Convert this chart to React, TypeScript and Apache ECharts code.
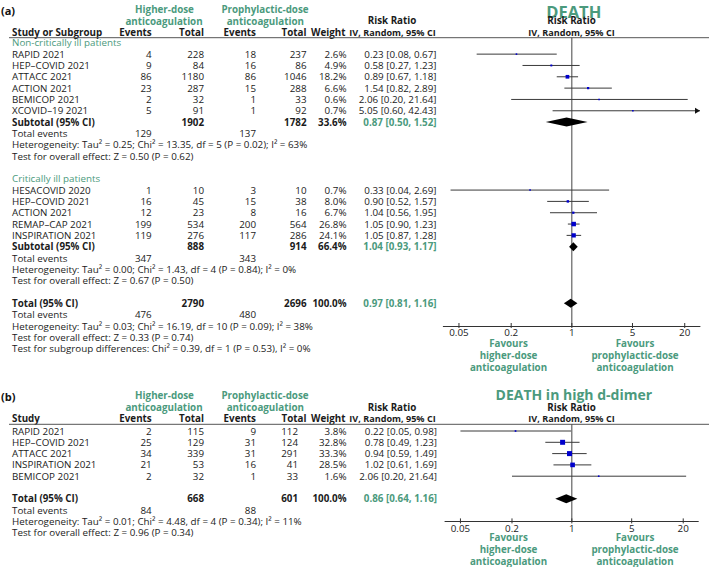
import React, { useEffect, useRef } from 'react';
import * as echarts from 'echarts';

const FONT = "'Open Sans', sans-serif";
const GREEN = '#4b9a7d';
const INK = '#1b1b1b';
const FS = 9.8;
const X_MIN = 0.033;
const X_MAX = 30;

// ---------- Panel (a): DEATH ----------
const groupLabelsA = ['Non-critically ill patients', 'Critically ill patients'];

const nonCritStudies = ['RAPID 2021', 'HEP–COVID 2021', 'ATTACC 2021', 'ACTION 2021', 'BEMICOP 2021', 'XCOVID–19 2021'];
const nonCritHighEvents = [4, 9, 86, 23, 2, 5];
const nonCritHighTotal = [228, 84, 1180, 287, 32, 91];
const nonCritProEvents = [18, 16, 86, 15, 1, 1];
const nonCritProTotal = [237, 86, 1046, 288, 33, 92];
const nonCritWeight = [2.6, 4.9, 18.2, 6.6, 0.6, 0.7];
const nonCritRR = [0.23, 0.58, 0.89, 1.54, 2.06, 5.05];
const nonCritLow = [0.08, 0.27, 0.67, 0.82, 0.2, 0.6];
const nonCritHigh = [0.67, 1.23, 1.18, 2.89, 21.64, 42.43];
// [higher total, prophylactic total, weight, RR, low, high]
const nonCritSubtotal = [1902, 1782, 33.6, 0.87, 0.5, 1.52];
const nonCritEvents = [129, 137];
const nonCritHetText = 'Heterogeneity: Tau² = 0.25; Chi² = 13.35, df = 5 (P = 0.02); I² = 63%';
const nonCritTestText = 'Test for overall effect: Z = 0.50 (P = 0.62)';

const critStudies = ['HESACOVID 2020', 'HEP–COVID 2021', 'ACTION 2021', 'REMAP–CAP 2021', 'INSPIRATION 2021'];
const critHighEvents = [1, 16, 12, 199, 119];
const critHighTotal = [10, 45, 23, 534, 276];
const critProEvents = [3, 15, 8, 200, 117];
const critProTotal = [10, 38, 16, 564, 286];
const critWeight = [0.7, 8.0, 6.7, 26.8, 24.1];
const critRR = [0.33, 0.9, 1.04, 1.05, 1.05];
const critLow = [0.04, 0.52, 0.56, 0.9, 0.87];
const critHigh = [2.69, 1.57, 1.95, 1.23, 1.28];
const critSubtotal = [888, 914, 66.4, 1.04, 0.93, 1.17];
const critEvents = [347, 343];
const critHetText = 'Heterogeneity: Tau² = 0.00; Chi² = 1.43, df = 4 (P = 0.84); I² = 0%';
const critTestText = 'Test for overall effect: Z = 0.67 (P = 0.50)';

const overallA = [2790, 2696, 100.0, 0.97, 0.81, 1.16];
const overallEventsA = [476, 480];
const overallHetA = 'Heterogeneity: Tau² = 0.03; Chi² = 16.19, df = 10 (P = 0.09); I² = 38%';
const overallTestA = 'Test for overall effect: Z = 0.33 (P = 0.74)';
const subgroupTestA = 'Test for subgroup differences: Chi² = 0.39, df = 1 (P = 0.53), I² = 0%';

// ---------- Panel (b): DEATH in high d-dimer ----------
const dimerStudies = ['RAPID 2021', 'HEP–COVID 2021', 'ATTACC 2021', 'INSPIRATION 2021', 'BEMICOP 2021'];
const dimerHighEvents = [2, 25, 34, 21, 2];
const dimerHighTotal = [115, 129, 339, 53, 32];
const dimerProEvents = [9, 31, 31, 16, 1];
const dimerProTotal = [112, 124, 291, 41, 33];
const dimerWeight = [3.8, 32.8, 33.3, 28.5, 1.6];
const dimerRR = [0.22, 0.78, 0.94, 1.02, 2.06];
const dimerLow = [0.05, 0.49, 0.59, 0.61, 0.2];
const dimerHigh = [0.98, 1.23, 1.49, 1.69, 21.64];
const overallB = [668, 601, 100.0, 0.86, 0.64, 1.16];
const overallEventsB = [84, 88];
const overallHetB = 'Heterogeneity: Tau² = 0.01; Chi² = 4.48, df = 4 (P = 0.34); I² = 11%';
const overallTestB = 'Test for overall effect: Z = 0.96 (P = 0.34)';

const tickValues = [0.05, 0.2, 1, 5, 20];
const tickLabels = ['0.05', '0.2', '1', '5', '20'];

// ---------- layout ----------
type Cell = { t: string; x: number; a: string; b?: boolean; c?: string };
type Cols = { name: number; he: number; ht: number; pe: number; pt: number; w: number; rr: number };
const COLS_A: Cols = { name: 12, he: 151.7, ht: 204, pe: 256, pt: 306.5, w: 346.5, rr: 436.5 };
const COLS_B: Cols = { name: 12, he: 151.7, ht: 204, pe: 256, pt: 298, w: 346.5, rr: 437 };

const f2 = (v: number) => v.toFixed(2);
const ciText = (rr: number, lo: number, hi: number) => `${f2(rr)} [${f2(lo)}, ${f2(hi)}]`;

function makeBuilder(cols: Cols) {
  const rows: Cell[][] = [];
  const marks: number[][] = [];
  return {
    rows,
    marks,
    text(t: string, color = INK) {
      rows.push([{ t, x: cols.name, a: 'left', c: color }]);
    },
    blank() {
      rows.push([]);
    },
    studies(names: string[], he: number[], ht: number[], pe: number[], pt: number[], w: number[], rr: number[], lo: number[], hi: number[]) {
      names.forEach((n, i) => {
        const r = rows.length;
        rows.push([
          { t: n, x: cols.name, a: 'left' },
          { t: String(he[i]), x: cols.he, a: 'right' },
          { t: String(ht[i]), x: cols.ht, a: 'right' },
          { t: String(pe[i]), x: cols.pe, a: 'right' },
          { t: String(pt[i]), x: cols.pt, a: 'right' },
          { t: w[i].toFixed(1) + '%', x: cols.w, a: 'right' },
          { t: ciText(rr[i], lo[i], hi[i]), x: cols.rr, a: 'right' },
        ]);
        marks.push([rr[i], r, lo[i], hi[i], w[i], 0]);
      });
    },
    summary(label: string, s: number[]) {
      const r = rows.length;
      rows.push([
        { t: label, x: cols.name, a: 'left', b: true },
        { t: String(s[0]), x: cols.ht, a: 'right', b: true },
        { t: String(s[1]), x: cols.pt, a: 'right', b: true },
        { t: s[2].toFixed(1) + '%', x: cols.w, a: 'right', b: true },
        { t: ciText(s[3], s[4], s[5]), x: cols.rr, a: 'right', b: true, c: GREEN },
      ]);
      marks.push([s[3], r, s[4], s[5], s[2], 1]);
    },
    events(e: number[]) {
      rows.push([
        { t: 'Total events', x: cols.name, a: 'left' },
        { t: String(e[0]), x: cols.he, a: 'right' },
        { t: String(e[1]), x: cols.pe, a: 'right' },
      ]);
    },
  };
}

const A = makeBuilder(COLS_A);
A.text(groupLabelsA[0], GREEN);
A.studies(nonCritStudies, nonCritHighEvents, nonCritHighTotal, nonCritProEvents, nonCritProTotal, nonCritWeight, nonCritRR, nonCritLow, nonCritHigh);
A.summary('Subtotal (95% CI)', nonCritSubtotal);
A.events(nonCritEvents);
A.text(nonCritHetText);
A.text(nonCritTestText);
A.blank();
A.text(groupLabelsA[1], GREEN);
A.studies(critStudies, critHighEvents, critHighTotal, critProEvents, critProTotal, critWeight, critRR, critLow, critHigh);
A.summary('Subtotal (95% CI)', critSubtotal);
A.events(critEvents);
A.text(critHetText);
A.text(critTestText);
A.blank();
A.summary('Total (95% CI)', overallA);
A.events(overallEventsA);
A.text(overallHetA);
A.text(overallTestA);
A.text(subgroupTestA);

const B = makeBuilder(COLS_B);
B.studies(dimerStudies, dimerHighEvents, dimerHighTotal, dimerProEvents, dimerProTotal, dimerWeight, dimerRR, dimerLow, dimerHigh);
B.blank();
B.summary('Total (95% CI)', overallB);
B.events(overallEventsB);
B.text(overallHetB);
B.text(overallTestB);

const Y_MIN_A = -0.45;
const Y_AXIS_A = 25;
const Y_MIN_B = -0.593;
const Y_AXIS_B = 8;

function txtStyle(t: string, align: string, bold?: boolean, color?: string, size?: number) {
  const fs = size || FS;
  return {
    text: t,
    fill: color || INK,
    fontSize: fs,
    fontFamily: FONT,
    fontWeight: bold ? 'bold' : 'normal',
    lineHeight: Math.min(fs, 12),
    align,
    verticalAlign: 'middle',
    textAlign: align,
    textVerticalAlign: 'middle',
  };
}

function T(x: number, y: number, t: string, align: string, bold?: boolean, color?: string, size?: number) {
  return { type: 'text', x, y, silent: true, style: txtStyle(t, align, bold, color, size) };
}

function tableSeries(rows: Cell[][], idx: number) {
  return {
    type: 'custom',
    xAxisIndex: idx,
    yAxisIndex: idx,
    silent: true,
    clip: false,
    data: rows.map((_, i) => [1, i]),
    encode: { x: 0, y: 1 },
    renderItem: (_p: any, api: any) => {
      const i = api.value(1);
      const y = api.coord([1, i])[1];
      return {
        type: 'group',
        children: rows[i].map((c) => ({ type: 'text', x: c.x, y, style: txtStyle(c.t, c.a, c.b, c.c) })),
      };
    },
  };
}

function forestSeries(marks: number[][], idx: number) {
  return {
    type: 'custom',
    xAxisIndex: idx,
    yAxisIndex: idx,
    silent: true,
    clip: false,
    data: marks,
    encode: { x: 0, y: 1 },
    renderItem: (_p: any, api: any) => {
      const rr = api.value(0);
      const r = api.value(1);
      const lo = api.value(2);
      const hi = api.value(3);
      const w = api.value(4);
      const kind = api.value(5);
      const c = api.coord([rr, r]);
      const pl = api.coord([lo, r]);
      const ph = api.coord([Math.min(hi, X_MAX), r]);
      if (kind === 1) {
        return {
          type: 'polygon',
          shape: { points: [[pl[0], c[1]], [c[0], c[1] - 4.5], [ph[0], c[1]], [c[0], c[1] + 4.5]] },
          style: { fill: '#000' },
        };
      }
      const s = Math.max(1.6, 0.87 * Math.sqrt(w));
      const children: any[] = [
        { type: 'line', shape: { x1: pl[0], y1: c[1], x2: ph[0], y2: c[1] }, style: { stroke: '#3a3a3a', lineWidth: 1 } },
        { type: 'rect', shape: { x: c[0] - s / 2, y: c[1] - s / 2, width: s, height: s }, style: { fill: '#0000cc' } },
      ];
      if (hi > X_MAX) {
        children.push({
          type: 'polygon',
          shape: { points: [[ph[0], c[1]], [ph[0] - 5, c[1] - 3], [ph[0] - 5, c[1] + 3]] },
          style: { fill: '#111' },
        });
      }
      return { type: 'group', children };
    },
  };
}

function refLineSeries(idx: number, yMin: number, yMax: number) {
  return {
    type: 'custom',
    xAxisIndex: idx,
    yAxisIndex: idx,
    silent: true,
    clip: false,
    data: [[1, yMin, yMax]],
    encode: { x: 0, y: 1 },
    renderItem: (_p: any, api: any) => {
      const p0 = api.coord([1, api.value(1)]);
      const p1 = api.coord([1, api.value(2)]);
      return { type: 'line', shape: { x1: p0[0], y1: p0[1], x2: p1[0], y2: p1[1] }, style: { stroke: '#444', lineWidth: 1 } };
    },
  };
}

function tickSeries(idx: number, axisRow: number) {
  return {
    type: 'custom',
    xAxisIndex: idx,
    yAxisIndex: idx,
    silent: true,
    clip: false,
    data: tickValues.map((v, i) => [v, axisRow, i]),
    encode: { x: 0, y: 1 },
    renderItem: (_p: any, api: any) => {
      const p = api.coord([api.value(0), api.value(1)]);
      return {
        type: 'group',
        children: [
          { type: 'line', shape: { x1: p[0], y1: p[1] - 3, x2: p[0], y2: p[1] + 2 }, style: { stroke: '#333', lineWidth: 1 } },
          { type: 'text', x: p[0], y: p[1] + 6.8, style: txtStyle(tickLabels[api.value(2)], 'center') },
        ],
      };
    },
  };
}

function headerBlock(y0: number, studyLabel: string, panel: string, title: string, titleSize: number, titleY: number, lineY: number, favY: number) {
  const hy = y0 + 23.5;
  return [
    T(1, y0 + 1.5, panel, 'left', true, '#111', 11),
    T(164.5, y0, 'Higher-dose', 'center', true, GREEN),
    T(164, y0 + 12.5, 'anticoagulation', 'center', true, GREEN),
    T(265, y0, 'Prophylactic-dose', 'center', true, GREEN),
    T(265.3, y0 + 12.5, 'anticoagulation', 'center', true, GREEN),
    T(392, y0 + 11.7, 'Risk Ratio', 'center', true),
    T(12, hy, studyLabel, 'left', true),
    T(151.7, hy, 'Events', 'right', true),
    T(204, hy, 'Total', 'right', true),
    T(256, hy, 'Events', 'right', true),
    T(306.5, hy, 'Total', 'right', true),
    T(345.5, hy, 'Weight', 'right', true),
    T(392.5, hy, 'IV, Random, 95% CI', 'center', true, INK, 9.1),
    T(573.8, titleY, title, 'center', true, GREEN, titleSize),
    T(571.5, y0 + 11.7, 'Risk Ratio', 'center', true),
    T(571.5, hy, 'IV, Random, 95% CI', 'center', true, INK, 9.1),
    { type: 'line', silent: true, shape: { x1: 9, y1: lineY, x2: 709, y2: lineY }, style: { stroke: '#555', lineWidth: 1 } },
    T(508.5, favY, 'Favours', 'center', true, GREEN),
    T(508.5, favY + 12, 'higher-dose', 'center', true, GREEN),
    T(508.5, favY + 24, 'anticoagulation', 'center', true, GREEN),
    T(635, favY, 'Favours', 'center', true, GREEN),
    T(635, favY + 12, 'prophylactic-dose', 'center', true, GREEN),
    T(635, favY + 24, 'anticoagulation', 'center', true, GREEN),
  ];
}

const axisCommon = {
  type: 'log',
  logBase: 10,
  min: X_MIN,
  max: X_MAX,
  axisLine: { show: true, onZero: false, lineStyle: { color: '#333', width: 1 } },
  axisTick: { show: false },
  axisLabel: { show: false },
  splitLine: { show: false },
};

const option: any = {
  animation: false,
  backgroundColor: '#ffffff',
  grid: [
    { left: 443.3, top: 37.7, width: 256.7, height: 288.3 },
    { left: 445, top: 424.3, width: 253.3, height: 97.1 },
  ],
  xAxis: [
    { ...axisCommon, gridIndex: 0 },
    { ...axisCommon, gridIndex: 1 },
  ],
  yAxis: [
    { type: 'value', gridIndex: 0, min: Y_MIN_A, max: Y_AXIS_A, inverse: true, show: false, splitLine: { show: false } },
    { type: 'value', gridIndex: 1, min: Y_MIN_B, max: Y_AXIS_B, inverse: true, show: false, splitLine: { show: false } },
  ],
  graphic: {
    elements: [
      ...headerBlock(9, 'Study or Subgroup', '(a)', 'DEATH', 16.5, 11, 37.7, 343.2),
      ...headerBlock(395.3, 'Study', '(b)', 'DEATH in high d-dimer', 14, 394.6, 424.3, 537.2),
    ],
  },
  series: [
    refLineSeries(0, Y_MIN_A, Y_AXIS_A),
    refLineSeries(1, Y_MIN_B, Y_AXIS_B),
    forestSeries(A.marks, 0),
    forestSeries(B.marks, 1),
    tickSeries(0, Y_AXIS_A),
    tickSeries(1, Y_AXIS_B),
    tableSeries(A.rows, 0),
    tableSeries(B.rows, 1),
  ],
};

export default function App() {
  const ref = useRef<HTMLDivElement>(null);
  useEffect(() => {
    document.body.style.margin = '0';
    const chart = echarts.init(ref.current as HTMLDivElement, null, { renderer: 'svg' });
    chart.setOption(option);
    return () => chart.dispose();
  }, []);
  return <div ref={ref} style={{ width: 709, height: 567, background: '#fff' }} />;
}
